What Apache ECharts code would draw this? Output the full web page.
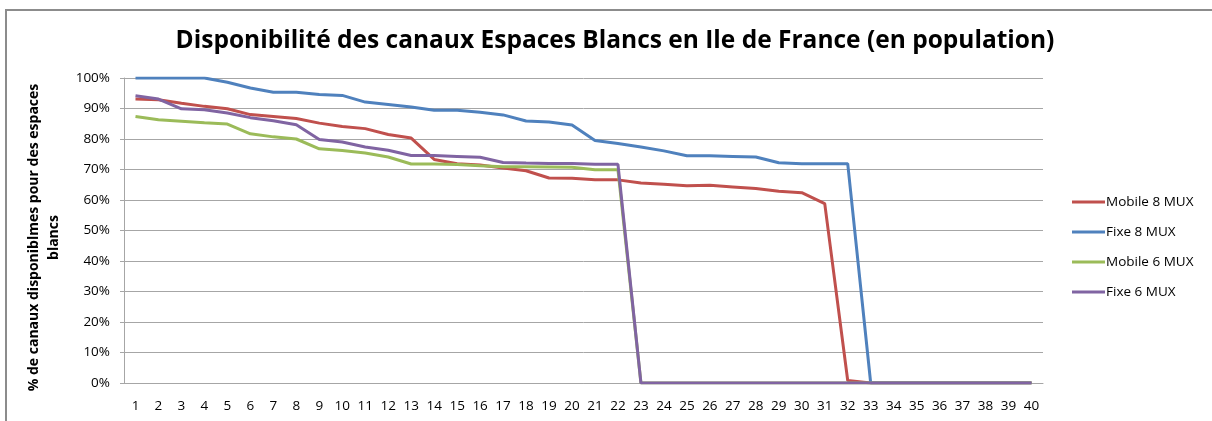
<!DOCTYPE html>
<html>
<head>
<meta charset="utf-8">
<script src="https://cdn.jsdelivr.net/npm/echarts@6/dist/echarts.min.js"></script>
<style>
  html, body { margin: 0; padding: 0; background: #fff; }
  #frame { position: absolute; left: 5px; top: 9px; width: 1207px; height: 412px;
           border-top: 2px solid #8c8c8c; border-left: 2px solid #8c8c8c; box-sizing: border-box; }
  #chart { position: absolute; left: 0; top: 0; width: 1212px; height: 421px; }
</style>
</head>
<body>
<div id="frame"></div>
<div id="chart"></div>
<script>
// Disponibilité des canaux Espaces Blancs - Ile de France
var categories = [];
for (var i = 1; i <= 40; i++) categories.push(String(i));

var mobile8 = [93.1, 92.9, 91.7, 90.7, 89.9, 88.0, 87.4, 86.7, 85.2, 84.1,
               83.4, 81.5, 80.3, 73.3, 71.9, 71.5, 70.5, 69.6, 67.2, 67.1,
               66.6, 66.6, 65.6, 65.2, 64.7, 64.8, 64.3, 63.8, 62.9, 62.4,
               58.8, 0.8, 0, 0, 0, 0, 0, 0, 0, 0];
var fixe8 = [100, 100, 100, 100, 98.6, 96.7, 95.3, 95.3, 94.6, 94.3,
             92.1, 91.3, 90.5, 89.4, 89.4, 88.8, 87.9, 85.9, 85.6, 84.6,
             79.5, 78.5, 77.4, 76.1, 74.5, 74.5, 74.3, 74.1, 72.2, 71.9,
             71.9, 71.9, 0, 0, 0, 0, 0, 0, 0, 0];
var mobile6 = [87.4, 86.3, 85.8, 85.3, 84.9, 81.7, 80.7, 80.0, 76.8, 76.2,
               75.4, 74.1, 71.8, 71.8, 71.6, 71.2, 70.9, 70.9, 70.8, 70.7,
               69.9, 69.9, 0, 0, 0, 0, 0, 0, 0, 0,
               0, 0, 0, 0, 0, 0, 0, 0, 0, 0];
var fixe6 = [94.2, 93.1, 89.9, 89.6, 88.5, 87.0, 86.0, 84.7, 79.8, 79.0,
             77.4, 76.3, 74.6, 74.6, 74.3, 74.0, 72.3, 72.1, 72.0, 72.0,
             71.7, 71.7, 0, 0, 0, 0, 0, 0, 0, 0,
             0, 0, 0, 0, 0, 0, 0, 0, 0, 0];

var seriesNames = ['Mobile 8 MUX', 'Fixe 8 MUX', 'Mobile 6 MUX', 'Fixe 6 MUX'];
var seriesData = [mobile8, fixe8, mobile6, fixe6];
var colors = ['#c0504d', '#4f81bd', '#9bbb59', '#8064a2'];

var font = '"Open Sans", "Noto Sans", sans-serif';

var chart = echarts.init(document.getElementById('chart'), null, { renderer: 'canvas' });
chart.setOption({
  animation: false,
  color: colors,
  title: {
    text: 'Disponibilité des canaux Espaces Blancs en Ile de France (en population)',
    left: 610, top: 24, textAlign: 'center',
    textStyle: { fontFamily: font, fontSize: 24.5, fontWeight: 'bold', color: '#000' }
  },
  legend: {
    orient: 'vertical',
    left: 1067, top: 190,
    itemWidth: 33, itemHeight: 3, itemGap: 16,
    icon: 'rect',
    textStyle: { fontFamily: font, fontSize: 13.5, color: '#000', padding: [0, 0, 0, -4] },
    data: seriesNames
  },
  grid: { left: 124, right: 169, top: 78, bottom: 38 },
  xAxis: {
    type: 'category',
    data: categories,
    boundaryGap: true,
    axisLine: { lineStyle: { color: '#a6a6a6', width: 1 } },
    axisTick: { show: false },
    axisLabel: { interval: 0, fontFamily: font, fontSize: 13.5, color: '#000', margin: 16 }
  },
  yAxis: {
    type: 'value',
    min: 0, max: 100, interval: 10,
    name: '% de canaux disponiblmes pour des espaces\nblancs',
    nameLocation: 'middle',
    nameGap: 60,
    nameRotate: 90,
    nameTextStyle: { fontFamily: font, fontSize: 14, fontWeight: 'bold', color: '#000', lineHeight: 20,
                     padding: [0, 14, 0, 0] },
    axisLine: { show: true, lineStyle: { color: '#a6a6a6' } },
    axisTick: { show: true, length: 4, lineStyle: { color: '#a6a6a6' } },
    axisLabel: { formatter: '{value}%', fontFamily: font, fontSize: 13.5, color: '#000', margin: 14 },
    splitLine: { lineStyle: { color: '#a6a6a6', width: 1 } }
  },
  series: seriesNames.map(function(name, k) {
    return {
      name: name,
      type: 'line',
      data: seriesData[k],
      symbol: 'none',
      lineStyle: { width: 3, color: colors[k] },
      itemStyle: { color: colors[k] }
    };
  })
});
</script>
</body>
</html>
